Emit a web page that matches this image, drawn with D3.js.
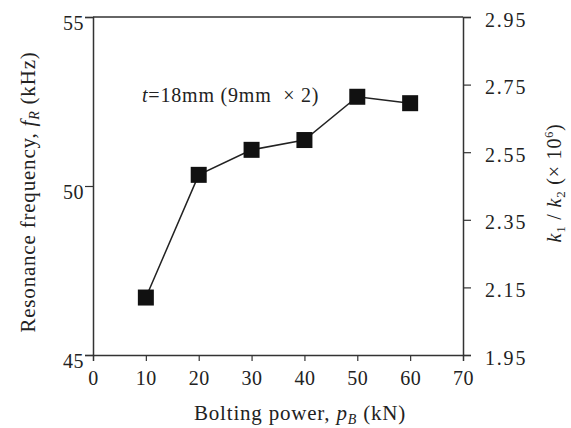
<!DOCTYPE html>
<html><head><meta charset="utf-8">
<script src="https://cdn.jsdelivr.net/npm/d3@7"></script>
<style>body{margin:0;background:#fff}svg{display:block}text{font-family:"Liberation Serif","DejaVu Serif",serif;fill:#222}</style>
</head><body><svg id="c" width="571" height="428"></svg>
<script>
const boltingPower = [10, 20, 30, 40, 50, 60];
const resonanceFreq = [46.7, 50.33, 51.07, 51.36, 52.64, 52.45];
const xTicks = [0, 10, 20, 30, 40, 50, 60, 70];
const leftTicks = [45, 50, 55];
const rightTicks = [1.95, 2.15, 2.35, 2.55, 2.75, 2.95];

const svg = d3.select("#c");
const L = 93, R = 463, T = 17, B = 355;
const x = d3.scaleLinear().domain([0, 70]).range([L, R]);
const y = d3.scaleLinear().domain([45, 55]).range([B, T]);
const y2 = d3.scaleLinear().domain([1.95, 2.95]).range([B, T]);
const stroke = "#333";

const gx = svg.append("g").attr("transform", `translate(0,${B})`)
  .call(d3.axisBottom(x).tickValues(xTicks).tickSize(6).tickPadding(10).tickFormat(d3.format("d")));
const gl = svg.append("g").attr("transform", `translate(${L},0)`)
  .call(d3.axisLeft(y).tickValues(leftTicks).tickSize(8).tickPadding(1).tickFormat(d3.format("d")));
const gr = svg.append("g").attr("transform", `translate(${R},0)`)
  .call(d3.axisRight(y2).tickValues(rightTicks).tickSize(8).tickPadding(14).tickFormat(d3.format(".2f")));
svg.append("line").attr("x1", L).attr("x2", R).attr("y1", T).attr("y2", T).attr("stroke", stroke).attr("stroke-width", 1.5);
[gx, gl, gr].forEach(g => {
  g.select(".domain").attr("stroke", stroke).attr("stroke-width", 1.5);
  g.selectAll(".tick line").attr("stroke", stroke).attr("stroke-width", 1.2);
  g.selectAll("text").attr("font-size", 20).attr("letter-spacing", 0.5).attr("font-family", "Liberation Serif").attr("fill", "#222");
});
gl.selectAll("text").attr("dy", "0.6em");
gr.selectAll("text").attr("dy", "0.45em").attr("letter-spacing", 1.8);
gx.select(".tick:first-of-type line").remove();
gx.select(".tick:last-of-type line").remove();

const line = d3.line().x((d, i) => x(boltingPower[i])).y(d => y(d));
svg.append("path").datum(resonanceFreq).attr("d", line).attr("fill", "none").attr("stroke", "#222").attr("stroke-width", 1.5);
const s = 16;
svg.selectAll("rect.m").data(resonanceFreq).join("rect").attr("class", "m")
  .attr("x", (d, i) => x(boltingPower[i]) - s / 2).attr("y", d => y(d) - s / 2)
  .attr("width", s).attr("height", s).attr("fill", "#111");

const ann = svg.append("text").attr("x", 142).attr("y", 102).attr("font-size", 20).attr("letter-spacing", 0.8);
ann.append("tspan").attr("font-style", "italic").text("t");
ann.append("tspan").text("=18mm (9mm \u00a0× 2)");

const xl = svg.append("text").attr("x", 300).attr("y", 420).attr("text-anchor", "middle").attr("font-size", 21).attr("letter-spacing", 0.8);
xl.append("tspan").text("Bolting power, ");
xl.append("tspan").attr("font-style", "italic").text("p");
xl.append("tspan").attr("font-style", "italic").attr("font-size", 14).attr("dy", 4).text("B");
xl.append("tspan").attr("dy", -4).text(" (kN)");

const yl = svg.append("text").attr("transform", "translate(35,192) rotate(-90)").attr("text-anchor", "middle").attr("font-size", 21).attr("letter-spacing", 0.8);
yl.append("tspan").text("Resonance frequency, ");
yl.append("tspan").attr("font-style", "italic").text("f");
yl.append("tspan").attr("font-style", "italic").attr("font-size", 14).attr("dy", 4).text("R");
yl.append("tspan").attr("dy", -4).text(" (kHz)");

const yr = svg.append("text").attr("transform", "translate(561,183) rotate(-90)").attr("text-anchor", "middle").attr("font-size", 20).attr("letter-spacing", 0.8);
yr.append("tspan").attr("font-style", "italic").text("k");
yr.append("tspan").attr("font-size", 13).attr("dy", 4).text("1");
yr.append("tspan").attr("dy", -4).text(" / ");
yr.append("tspan").attr("font-style", "italic").text("k");
yr.append("tspan").attr("font-size", 13).attr("dy", 4).text("2");
yr.append("tspan").attr("dy", -4).text(" (× 10");
yr.append("tspan").attr("font-size", 12).attr("dy", -8).text("6");
yr.append("tspan").attr("dy", 8).text(")");
</script></body></html>
